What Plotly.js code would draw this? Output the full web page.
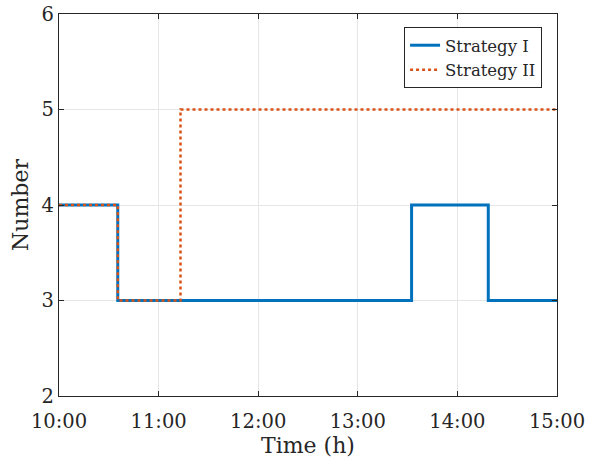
<!DOCTYPE html>
<html><head><meta charset="utf-8">
<script src="https://cdn.plot.ly/plotly-3.0.1.min.js"></script>
<style>html,body{margin:0;padding:0;background:#fff}#c{width:590px;height:465px}</style>
</head><body><div id="c"></div>
<script>
const timeS1 = [10, 10.59, 13.54, 14.31, 15];
const numS1 = [4, 3, 4, 3, 3];
const timeS2 = [10, 10.59, 11.22, 15];
const numS2 = [4, 3, 5, 5];
const tickHours = [10, 11, 12, 13, 14, 15];
const tickLabels = ["10:00", "11:00", "12:00", "13:00", "14:00", "15:00"];
const yTicks = [2, 3, 4, 5, 6];
const font = "'DejaVu Serif', serif";
const traces = [
  {x: timeS1, y: numS1, name: "Strategy I", mode: "lines", line: {shape: "hv", color: "#0072BD", width: 3}},
  {x: timeS2, y: numS2, name: "Strategy II", mode: "lines", line: {shape: "hv", color: "#D95319", width: 2.5, dash: "dot"}}
];
const layout = {
  width: 590, height: 465,
  margin: {l: 59, r: 33, t: 14, b: 69},
  paper_bgcolor: "#fff", plot_bgcolor: "#fff",
  font: {family: font, color: "#262626", size: 19},
  xaxis: {range: [10, 15], tickvals: tickHours, ticktext: tickLabels, showgrid: true, gridcolor: "#e6e6e6",
    zeroline: false, showline: true, linecolor: "#262626", linewidth: 1.2, mirror: "ticks", ticks: "inside", ticklen: 5,
    tickcolor: "#262626", tickfont: {size: 19.5, family: font, color: "#262626"}, ticklabelstandoff: 7,
    title: {text: "Time (h)", font: {size: 22, family: font, color: "#262626"}, standoff: 1}},
  yaxis: {range: [2, 6], tickvals: yTicks, showgrid: true, gridcolor: "#e6e6e6",
    zeroline: false, showline: true, linecolor: "#262626", linewidth: 1.2, mirror: "ticks", ticks: "inside", ticklen: 5,
    tickcolor: "#262626", tickfont: {size: 19.5, family: font, color: "#262626"},
    title: {text: "Number", font: {size: 22, family: font, color: "#262626"}, standoff: 6}},
  legend: {x: 0.97, xanchor: "right", y: 0.966, yanchor: "top", bgcolor: "#fff", bordercolor: "#262626", borderwidth: 1,
    font: {size: 16.5, family: font, color: "#262626"}, tracegroupgap: 0, itemwidth: 30},
  showlegend: true
};
Plotly.newPlot("c", traces, layout, {displayModeBar: false, staticPlot: true});
</script></body></html>
